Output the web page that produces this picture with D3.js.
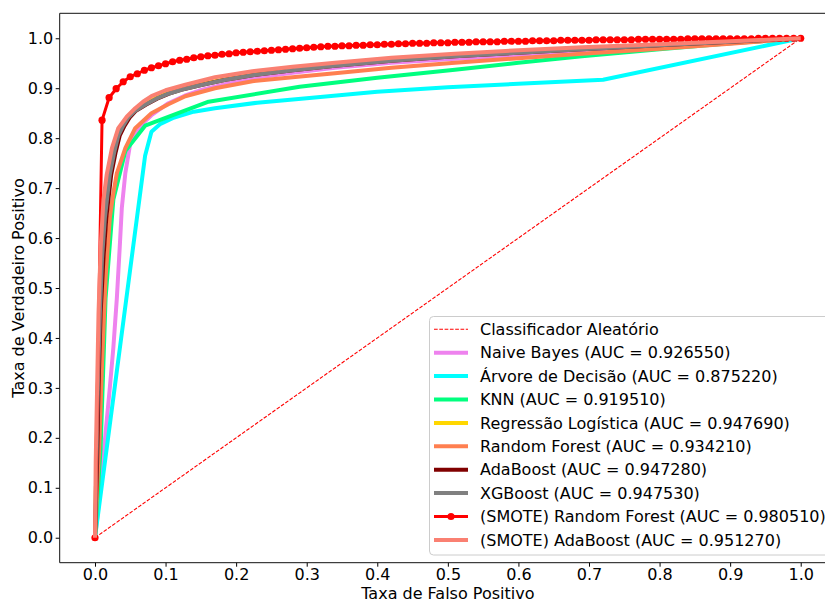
<!DOCTYPE html>
<html>
<head>
<meta charset="utf-8">
<script src="https://cdn.jsdelivr.net/npm/d3@7"></script>
<style>
  html, body { margin: 0; padding: 0; background: #fff; }
  svg { display: block; font-family: "DejaVu Sans", sans-serif; }
</style>
</head>
<body>
<svg id="chart" width="825" height="601"></svg>
<script>
// ROC curves: [false positive rate, true positive rate]
const naiveBayes = [[0,0],[0.004,0.05],[0.009,0.12],[0.015,0.21],[0.021,0.30],[0.026,0.38],[0.031,0.48],[0.035,0.58],[0.038,0.66],[0.043,0.73],[0.050,0.79],[0.058,0.812],[0.066,0.827],[0.080,0.846],[0.104,0.870],[0.127,0.885],[0.152,0.897],[0.190,0.910],[0.223,0.920],[0.280,0.931],[0.340,0.941],[0.420,0.951],[0.510,0.959],[0.600,0.966],[0.690,0.973],[0.800,0.981],[0.900,0.990],[1,1]];
const decisionTree = [[0,0],[0.071,0.765],[0.080,0.813],[0.092,0.828],[0.110,0.840],[0.140,0.853],[0.170,0.860],[0.230,0.871],[0.300,0.880],[0.400,0.893],[0.500,0.902],[0.600,0.909],[0.720,0.917],[1,1]];
const knn = [[0,0],[0.008,0.18],[0.015,0.48],[0.026,0.677],[0.043,0.774],[0.071,0.825],[0.161,0.873],[0.290,0.903],[0.400,0.921],[0.510,0.937],[0.600,0.951],[0.690,0.964],[0.800,0.978],[0.900,0.990],[1,1]];
const logisticRegression = [[0,0],[0.002,0.15],[0.004,0.30],[0.007,0.45],[0.010,0.56],[0.014,0.642],[0.021,0.729],[0.027,0.772],[0.033,0.807],[0.040,0.827],[0.047,0.843],[0.057,0.857],[0.071,0.869],[0.087,0.881],[0.104,0.891],[0.125,0.900],[0.152,0.909],[0.185,0.918],[0.223,0.927],[0.280,0.937],[0.340,0.946],[0.420,0.956],[0.510,0.965],[0.600,0.972],[0.690,0.979],[0.800,0.986],[0.900,0.993],[1,1]];
const randomForest = [[0,0],[0.003,0.10],[0.006,0.18],[0.010,0.35],[0.015,0.52],[0.021,0.64],[0.026,0.69],[0.031,0.730],[0.043,0.780],[0.057,0.820],[0.080,0.850],[0.104,0.868],[0.128,0.884],[0.170,0.900],[0.223,0.914],[0.280,0.922],[0.340,0.930],[0.420,0.941],[0.510,0.951],[0.600,0.960],[0.690,0.969],[0.800,0.979],[0.900,0.989],[1,1]];
const adaBoost = [[0,0],[0.003,0.15],[0.005,0.30],[0.008,0.45],[0.012,0.56],[0.016,0.64],[0.023,0.727],[0.029,0.770],[0.035,0.805],[0.042,0.825],[0.049,0.841],[0.058,0.855],[0.072,0.867],[0.088,0.879],[0.105,0.889],[0.125,0.898],[0.152,0.907],[0.185,0.917],[0.223,0.926],[0.280,0.936],[0.340,0.945],[0.420,0.955],[0.510,0.964],[0.600,0.971],[0.690,0.978],[0.800,0.986],[0.900,0.993],[1,1]];
const xgBoost = [[0,0],[0.002,0.15],[0.004,0.30],[0.007,0.45],[0.010,0.56],[0.014,0.64],[0.021,0.727],[0.027,0.770],[0.033,0.805],[0.040,0.825],[0.047,0.841],[0.057,0.855],[0.071,0.867],[0.087,0.879],[0.104,0.889],[0.125,0.898],[0.152,0.907],[0.185,0.917],[0.223,0.926],[0.280,0.936],[0.340,0.945],[0.420,0.955],[0.510,0.964],[0.600,0.971],[0.690,0.978],[0.800,0.986],[0.900,0.993],[1,1]];
const smoteAdaBoost = [[0,0],[0.001,0.15],[0.003,0.30],[0.005,0.45],[0.008,0.58],[0.012,0.677],[0.0166,0.727],[0.024,0.780],[0.033,0.820],[0.045,0.843],[0.057,0.860],[0.068,0.873],[0.080,0.884],[0.100,0.896],[0.128,0.907],[0.170,0.922],[0.223,0.934],[0.280,0.943],[0.340,0.951],[0.420,0.961],[0.510,0.969],[0.600,0.976],[0.690,0.982],[0.800,0.988],[0.900,0.994],[1,1]];

// SMOTE Random Forest: mean TPR sampled on an evenly spaced FPR grid (step 0.01)
const smoteRfTpr = [
  0.000, 0.836, 0.881, 0.899, 0.913, 0.923, 0.929, 0.936, 0.941, 0.945,
  0.949, 0.953, 0.956, 0.958, 0.961, 0.963, 0.965, 0.966, 0.968, 0.969,
  0.971, 0.972, 0.973, 0.974, 0.975, 0.976, 0.977, 0.978, 0.979, 0.980,
  0.981, 0.982, 0.983, 0.984, 0.984, 0.985, 0.985, 0.986, 0.986, 0.987,
  0.987, 0.988, 0.988, 0.989, 0.989, 0.990, 0.990, 0.990, 0.991, 0.991,
  0.991, 0.992, 0.992, 0.992, 0.993, 0.993, 0.993, 0.993, 0.994, 0.994,
  0.994, 0.994, 0.995, 0.995, 0.995, 0.995, 0.996, 0.996, 0.996, 0.996,
  0.996, 0.997, 0.997, 0.997, 0.997, 0.997, 0.997, 0.998, 0.998, 0.998,
  0.998, 0.998, 0.998, 0.998, 0.999, 0.999, 0.999, 0.999, 0.999, 0.999,
  0.999, 0.999, 0.999, 0.999, 1.000, 1.000, 1.000, 1.000, 1.000, 1.000,
  1.000
];
const smoteRfFpr = d3.range(smoteRfTpr.length).map(i => i / 100);
const smoteRandomForest = smoteRfFpr.map((f, i) => [f, smoteRfTpr[i]]);

const chanceLine = [[0, 0], [1, 1]];

const seriesLabels = [
  "Naive Bayes (AUC = 0.926550)",
  "Árvore de Decisão (AUC = 0.875220)",
  "KNN (AUC = 0.919510)",
  "Regressão Logística (AUC = 0.947690)",
  "Random Forest (AUC = 0.934210)",
  "AdaBoost (AUC = 0.947280)",
  "XGBoost (AUC = 0.947530)",
  "(SMOTE) Random Forest (AUC = 0.980510)",
  "(SMOTE) AdaBoost (AUC = 0.951270)"
];
const seriesColors = ["#ee82ee", "#00ffff", "#00ff7f", "#ffd700", "#ff7f50", "#800000", "#808080", "#ff0000", "#fa8072"];
const seriesData = [naiveBayes, decisionTree, knn, logisticRegression, randomForest, adaBoost, xgBoost, smoteRandomForest, smoteAdaBoost];
const chanceLabel = "Classificador Aleatório";

const xTicks = [0, 0.1, 0.2, 0.3, 0.4, 0.5, 0.6, 0.7, 0.8, 0.9, 1.0];
const yTicks = [0, 0.1, 0.2, 0.3, 0.4, 0.5, 0.6, 0.7, 0.8, 0.9, 1.0];
const xTitle = "Taxa de Falso Positivo";
const yTitle = "Taxa de Verdadeiro Positivo";

// ---- layout ----
const svg = d3.select("#chart");
const plot = { left: 59.7, right: 836, top: 13.3, bottom: 562.7 };
const x = d3.scaleLinear().domain([-0.05, 1.05]).range([plot.left, plot.right]);
const y = d3.scaleLinear().domain([-0.05, 1.05]).range([plot.bottom, plot.top]);

svg.append("clipPath").attr("id", "plotclip")
  .append("rect").attr("x", plot.left).attr("y", plot.top)
  .attr("width", plot.right - plot.left).attr("height", plot.bottom - plot.top);

const line = d3.line().x(d => x(d[0])).y(d => y(d[1]));
const marks = svg.append("g").attr("clip-path", "url(#plotclip)");

// chance diagonal
marks.append("path").datum(chanceLine)
  .attr("d", line).attr("fill", "none")
  .attr("stroke", "#ff0000").attr("stroke-width", 1.1)
  .attr("stroke-dasharray", "3.7,1.6");

seriesData.forEach((data, i) => {
  const isRf = i === 7;
  marks.append("path").datum(data)
    .attr("d", line).attr("fill", "none")
    .attr("stroke", seriesColors[i])
    .attr("stroke-width", isRf ? 3 : 4)
    .attr("stroke-linejoin", "round");
  if (isRf) {
    marks.append("g").selectAll("circle").data(data).join("circle")
      .attr("cx", d => x(d[0])).attr("cy", d => y(d[1]))
      .attr("r", 3.6).attr("fill", seriesColors[i]);
  }
});

// ---- axes ----
const xAxis = d3.axisBottom(x).tickValues(xTicks).tickFormat(d3.format(".1f")).tickSize(4).tickPadding(2);
const yAxis = d3.axisLeft(y).tickValues(yTicks).tickFormat(d3.format(".1f")).tickSize(4).tickPadding(2.5);

const gx = svg.append("g").attr("transform", `translate(0,${plot.bottom})`).call(xAxis);
const gy = svg.append("g").attr("transform", `translate(${plot.left},0)`).call(yAxis);
[gx, gy].forEach(g => {
  g.select(".domain").remove();
  g.selectAll("line").attr("stroke", "#000").attr("stroke-width", 1);
  g.selectAll("text").attr("font-size", 16).attr("fill", "#000")
    .attr("font-family", "DejaVu Sans, sans-serif");
});

// frame
const frame = svg.append("g").attr("fill", "none").attr("stroke", "#111").attr("stroke-width", 1);
frame.append("line").attr("x1", plot.left).attr("x2", plot.left).attr("y1", plot.top).attr("y2", plot.bottom);
frame.append("line").attr("x1", plot.left).attr("x2", plot.right).attr("y1", plot.bottom).attr("y2", plot.bottom);
frame.append("line").attr("x1", plot.left).attr("x2", plot.right).attr("y1", plot.top).attr("y2", plot.top);
frame.append("line").attr("x1", plot.right).attr("x2", plot.right).attr("y1", plot.top).attr("y2", plot.bottom);

// axis titles
svg.append("text").attr("x", (plot.left + plot.right) / 2).attr("y", 598.5)
  .attr("text-anchor", "middle").attr("font-size", 16).text(xTitle);
svg.append("text")
  .attr("transform", `translate(24,${(plot.top + plot.bottom) / 2}) rotate(-90)`)
  .attr("text-anchor", "middle").attr("font-size", 16).text(yTitle);

// ---- legend ----
const legend = svg.append("g").attr("transform", "translate(429.5,316.5)");
legend.append("rect").attr("x", 0).attr("y", 0).attr("width", 420).attr("height", 238.5)
  .attr("rx", 4).attr("fill", "#fff").attr("fill-opacity", 0.8)
  .attr("stroke", "#cccccc").attr("stroke-width", 1);

const rowY = i => 12.8 + i * 23.4;
const entries = [{ label: chanceLabel, color: "#ff0000", dashed: true }]
  .concat(seriesLabels.map((l, i) => ({ label: l, color: seriesColors[i], marker: i === 7, width: i === 7 ? 3 : 4 })));

entries.forEach((e, i) => {
  const g = legend.append("g").attr("transform", `translate(0,${rowY(i)})`);
  g.append("line").attr("x1", 4.5).attr("x2", 38.5).attr("y1", 0).attr("y2", 0)
    .attr("stroke", e.color)
    .attr("stroke-width", e.dashed ? 1.1 : e.width)
    .attr("stroke-dasharray", e.dashed ? "3.7,1.6" : null);
  if (e.marker) g.append("circle").attr("cx", 21.5).attr("cy", 0).attr("r", 3.6).attr("fill", e.color);
  g.append("text").attr("x", 50.5).attr("y", 0).attr("dy", "0.36em")
    .attr("font-size", 16).attr("fill", "#000").text(e.label);
});
</script>
</body>
</html>
